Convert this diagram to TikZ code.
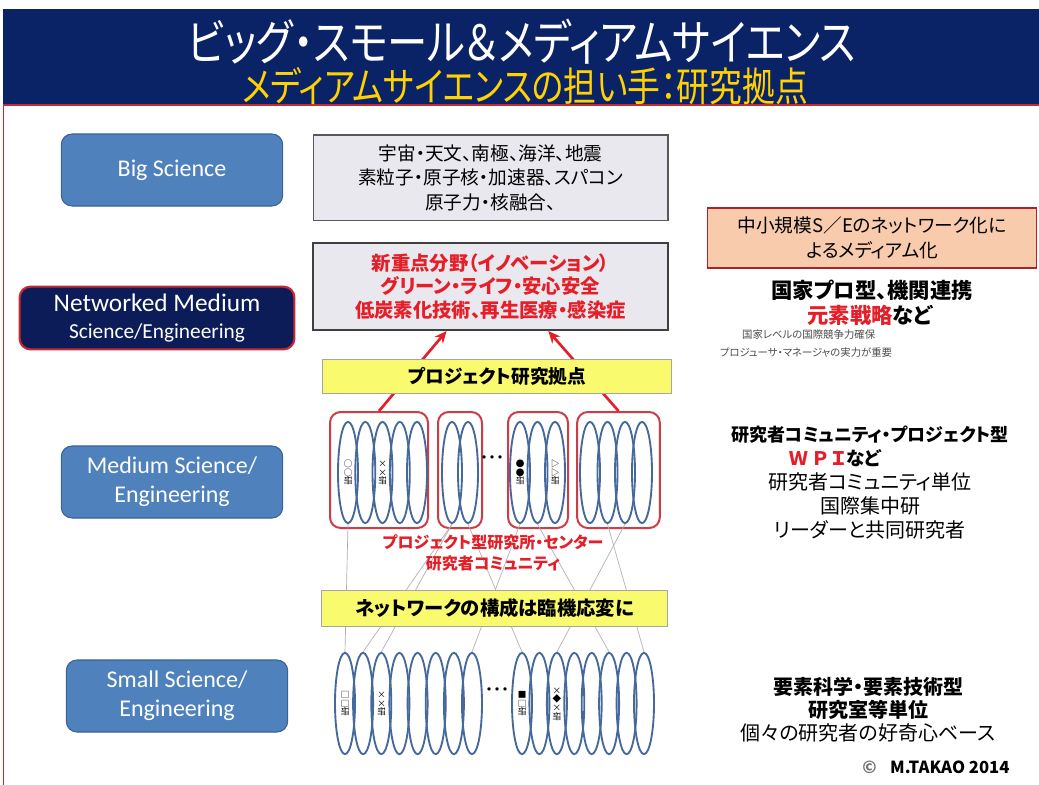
\documentclass[tikz,border=0pt]{standalone}
\usepackage{fontspec}
\setmainfont{Noto Sans CJK JP}[RawFeature=+palt]
\newfontfamily\titlefont{Noto Sans CJK JP}[RawFeature=+palt,FakeStretch=0.83]
\newfontfamily\subtitlefont{Noto Sans CJK JP}[RawFeature=+palt,FakeStretch=0.82]
\newfontfamily\calfont{Carlito}
\usetikzlibrary{shapes.geometric,arrows.meta,calc}
\definecolor{navy}{RGB}{10,34,102}
\definecolor{gold}{RGB}{255,210,0}
\definecolor{boxblue}{RGB}{79,129,189}
\definecolor{boxblueline}{RGB}{58,98,148}
\definecolor{netnavy}{RGB}{12,28,88}
\definecolor{redline}{RGB}{200,40,50}
\definecolor{ellblue}{RGB}{70,105,155}
\definecolor{grayfill}{RGB}{232,232,238}
\definecolor{yellowfill}{RGB}{250,250,110}
\definecolor{salmon}{RGB}{247,203,172}
\definecolor{txtred}{RGB}{230,30,40}
\definecolor{netgray}{RGB}{175,175,180}
\begin{document}
\begin{tikzpicture}[x=0.75pt,y=-0.75pt,
  lbox/.style={rounded corners=8pt, fill=boxblue, draw=boxblueline, line width=0.8pt, text=white,
     align=center, inner sep=0pt, minimum width=166pt, minimum height=54pt},
  graybox/.style={fill=grayfill, draw=black!65, line width=1pt, align=center, inner sep=0pt,
     minimum width=266pt, minimum height=64pt},
  ybox/.style={fill=yellowfill, draw=black!35, line width=0.6pt, inner sep=0pt, minimum height=25pt},
  grp/.style={draw=redline!90, line width=1.5pt, rounded corners=8pt, inner sep=0pt},
  ell/.style={ellipse, draw=ellblue, line width=1.4pt, inner sep=0pt, minimum width=15pt, minimum height=76pt},
  lab/.style={rotate=-90, font=\fontsize{6.5}{7}\selectfont, inner sep=0pt},
  netline/.style={draw=netgray, line width=0.5pt},
  redarrow/.style={draw=txtred, line width=2pt, -{Stealth[length=9pt,width=8pt]}},
  rtext/.style={align=center, inner sep=0pt}
]
\useasboundingbox (0,0) rectangle (1039,785);
\fill[white] (0,0) rectangle (1039,785);
% title bar
\fill[navy] (3,9) rectangle (1039,104);
\draw[redline, line width=1.5pt] (3,105) -- (1039,105);
\draw[redline, line width=1pt] (3.5,104) -- (3.5,785);
\node[text=white, font=\titlefont\fontsize{36.5}{37}\selectfont] (title) at (522,42) {ビッグ・スモール＆メディアムサイエンス};
\node[text=gold, font=\subtitlefont\fontsize{30}{30}\selectfont] (subtitle) at (525,86) {メディアムサイエンスの担い手：研究拠点};

% left boxes
\node[lbox, font=\calfont\fontsize{18}{21}\selectfont] (big) at (172,170) {Big Science};
\node[lbox, fill=netnavy, draw=redline, line width=1.6pt, minimum width=206pt, minimum height=47pt,
  font=\calfont\fontsize{19}{20}\selectfont] (net) at (157,318)
  {Networked Medium\\{\fontsize{16}{19}\selectfont Science/Engineering}};
\node[lbox, font=\calfont\fontsize{18}{22}\selectfont] (med) at (172,482) {Medium Science/\\Engineering};
\node[lbox, font=\calfont\fontsize{18}{22}\selectfont] (small) at (177,696) {Small Science/\\Engineering};

% group frames
\node[grp, minimum width=73.5pt, minimum height=87pt] (g1) at (379,470) {};
\node[grp, minimum width=33pt, minimum height=87pt] (g2) at (460,470) {};
\node[grp, minimum width=45pt, minimum height=87pt] (g3) at (538,470) {};
\node[grp, minimum width=62pt, minimum height=87pt] (g4) at (618.5,470) {};

% centre boxes
\node[graybox, font=\fontsize{14}{18.4}\selectfont] (bigbox) at (490.5,177.5)
  {宇宙・天文、南極、海洋、地震\\素粒子・原子核・加速器、スパコン\\原子力・核融合、};
\node[graybox, draw=black!75, line width=1.8pt, minimum height=65pt, text=txtred, font=\bfseries\fontsize{14.5}{17.6}\selectfont] (newbox) at (490.5,286.5)
  {新重点分野（イノベーション）\\グリーン・ライフ・安心安全\\低炭素化技術、再生医療・感染症};

\draw[redarrow] (g1.north) -- ($(newbox.south west)!0.377!(newbox.south east)$);
\draw[redarrow] (g4.north) -- ($(newbox.south west)!0.662!(newbox.south east)$);

\node[ybox, minimum width=262pt, font=\bfseries\fontsize{14}{16}\selectfont] (proj) at (497,376.5) {プロジェクト研究拠点};

% medium ellipses
\foreach \i/\x in {1/348,2/365.3,3/382.5,4/399.8,5/417} \node[ell] (ma\i) at (\x,472.5) {};
\foreach \i/\x in {1/452,2/468} \node[ell] (mb\i) at (\x,472.5) {};
\foreach \i/\x in {1/520,2/537.5,3/555} \node[ell] (mc\i) at (\x,472.5) {};
\foreach \i/\x in {1/590,2/607.5,3/625,4/642} \node[ell] (md\i) at (\x,472.5) {};
\node[lab] (la1) at (ma1) {○○研};
\node[lab] (la3) at (ma3) {××研};
\node[lab] (lc1) at (mc1) {●●研};
\node[lab] (lc3) at (mc3) {△△研};
\node[font=\fontsize{12}{12}\selectfont] (mdots) at (492,460) {・・・};

% small ellipses
\foreach \i/\x in {1/345,2/363.1,3/381.3,4/399.4,5/417.6,6/435.7,7/453.9,8/472} \node[ell] (sl\i) at (\x,703.5) {};
\foreach \i/\x in {1/522,2/539.4,3/556.9,4/574.3,5/591.7,6/609.1,7/626.6,8/644} \node[ell] (sr\i) at (\x,703.5) {};
\node[lab] (ls1) at (sl1) {□□研};
\node[lab] (ls3) at (sl3) {××研};
\node[lab] (rs1) at (sr1) {■□研};
\node[lab] (rs3) at (sr3) {×◆×研};
\node[font=\fontsize{12}{12}\selectfont] (sdots) at (497,692) {・・・};

% network lines
\path[netline] (ma1.south) -- (sl1.north);
\path[netline] (mb1.south) -- (sl2.north);
\path[netline] (mb1.south) -- (sl3.north);
\path[netline] (mb2.south) -- (sr1.north);
\path[netline] (mc1.south) -- (sl8.north);
\path[netline] (mc2.south) -- (sr6.north);
\path[netline] (md3.south) -- (sr3.north);
\path[netline] (md2.south) -- (sr8.north);

\node[text=txtred, rtext, font=\bfseries\fontsize{12}{15.5}\selectfont] (projlbl) at (493,553)
  {プロジェクト型研究所・センター\\研究者コミュニティ};
\node[ybox, minimum width=259pt, minimum height=27pt, font=\bfseries\fontsize{14.5}{16}\selectfont] (netbox) at (494.5,608.5) {ネットワークの構成は臨機応変に};

% right column
\node[fill=salmon, draw=redline!85!black, line width=1.2pt, minimum width=247pt, minimum height=45pt, inner sep=0pt,
  align=center, font=\fontsize{14}{18.5}\selectfont] (salm) at (872,238) {中小規模S／Eのネットワーク化に\\よるメディアム化};
\node[rtext, font=\bfseries\fontsize{16}{20}\selectfont] (kokka) at (872,290) {国家プロ型、機関連携};
\node[rtext, font=\bfseries\fontsize{16}{20}\selectfont] (genso) at (870,315) {\textcolor{txtred}{元素戦略}など};
\node[rtext, text=black!70, font=\fontsize{7.8}{13.5}\selectfont] (kokusai) at (806,344)
  {\hspace*{4pt}国家レベルの国際競争力確保\\プロジューサ・マネージャの実力が重要};

\node[rtext, font=\bfseries\fontsize{13.5}{16}\selectfont] (comm) at (870,435) {研究者コミュニティ・プロジェクト型};
\node[rtext, font=\bfseries\fontsize{14}{16}\selectfont] (wpi) at (835,458) {\textcolor{txtred}{Ｗ Ｐ Ｉ}など};
\node[rtext, font=\fontsize{15}{18}\selectfont] (commu) at (870,506) {研究者コミュニティ単位\\国際集中研\\リーダーと共同研究者};

\node[rtext, font=\fontsize{15}{17.3}\selectfont] (small1) at (868,710)
  {\textbf{要素科学・要素技術型}\\\textbf{研究室等単位}\\個々の研究者の好奇心ベース};
\node[rtext, font=\bfseries\fontsize{12.5}{14}\selectfont] (copy) at (936,767) {\textcolor{black!55}{©}\hspace{10pt}M.TAKAO 2014};
\end{tikzpicture}
\end{document}
